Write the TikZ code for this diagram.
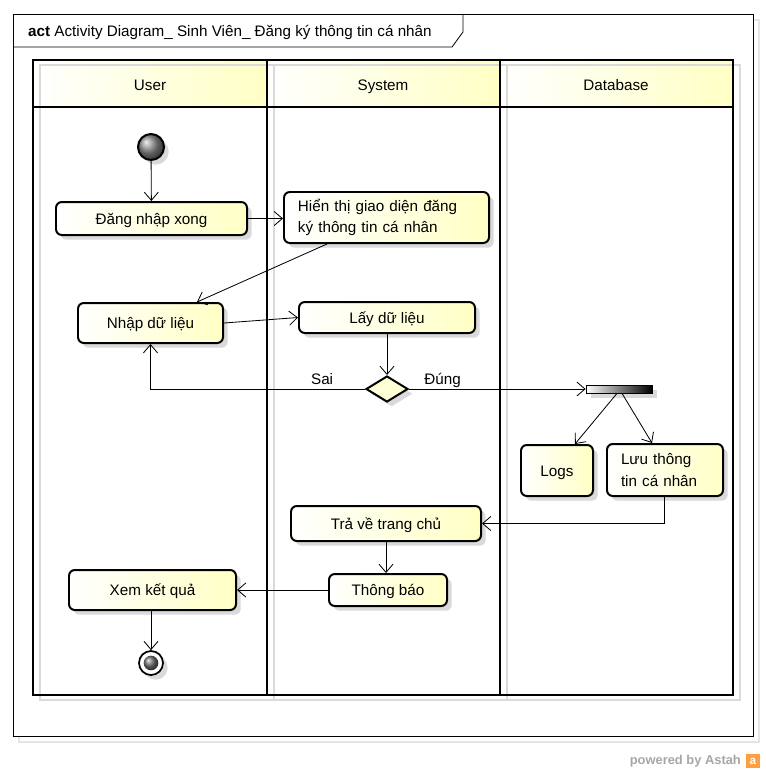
\documentclass[tikz,border=0pt]{standalone}
\usepackage{fontspec}
\setmainfont{Liberation Sans}
\usetikzlibrary{arrows.meta,shapes.geometric,shadows}
\definecolor{paleyellow}{RGB}{255,255,196}
\definecolor{shadowgray}{RGB}{218,218,218}

\begin{document}
\begin{tikzpicture}[
        x=0.03cm, y=-0.03cm,
        >={Straight Barb[length=7pt,width=12pt]},
        font=\fontsize{13}{18.5}\selectfont,
        softshadow/.style={drop shadow={shadow xshift=4pt, shadow yshift=-4pt,
            fill=shadowgray, opacity=1}},
        action/.style={draw, line width=1.7pt, rounded corners=5pt, inner sep=0pt,
            left color=white, right color=paleyellow, align=center, softshadow},
        oneline/.style={text height=1.9ex, text depth=0ex},
        initial/.style={circle, draw, line width=1.7pt, inner sep=0pt,
            minimum size=0.78cm, ball color=black!45, softshadow},
        decision/.style={diamond, draw, line width=1.7pt, inner sep=0pt,
            fill=paleyellow!70, minimum width=1.26cm, minimum height=0.78cm, softshadow},
        forkbar/.style={draw, line width=0.6pt, inner sep=0pt, left color=white,
            right color=black, minimum width=1.98cm, minimum height=0.24cm, softshadow},
        flow/.style={->, line width=0.7pt},
        lane/.style={line width=2.2pt},
        lanehead/.style={left color=white, right color=paleyellow}
    ]
    \useasboundingbox (0,0) rectangle (766,774);
    % frame
    \draw[shadowgray!70, line width=1pt] (19,20) rectangle (759,742);
    \draw[fill=white, line width=0.7pt] (13,14) rectangle (753,736);
    \draw[line width=0.7pt] (13,47) -- (452,47) -- (463,32) -- (463,14);
    \node[anchor=west, oneline] (title) at (24,31)
        {\textbf{act} Activity Diagram\_ Sinh Viên\_ Đăng ký thông tin cá nhân};

    % swimlanes
    \shade[lanehead] (33,60) rectangle (267,107);
    \shade[lanehead] (267,60) rectangle (500,107);
    \shade[lanehead] (500,60) rectangle (733,107);
    \draw[shadowgray, lane] (40,65) rectangle (740,700);
    \draw[shadowgray, lane] (274,65) -- (274,700) (507,65) -- (507,700);
    \draw[lane] (33,60) rectangle (733,695);
    \draw[lane] (33,107) -- (733,107);
    \draw[lane] (267,60) -- (267,695) (500,60) -- (500,695);
    \node[oneline] (user) at (150,85) {User};
    \node[oneline] (system) at (383,85) {System};
    \node[oneline] (database) at (616,85) {Database};

    % nodes
    \node[initial] (start) at (151,147) {};
    \node[action, oneline, minimum width=5.73cm, minimum height=0.99cm] (login)
        at (151.5,218.5) {Đăng nhập xong};
    \node[action, minimum width=6.15cm, minimum height=1.53cm, inner xsep=0.42cm,
        text width=5.31cm, align=left] (showform) at (386.5,217.5)
        {Hiển thị giao diện đăng\\ký thông tin cá nhân};
    \node[action, oneline, minimum width=4.35cm, minimum height=1.2cm] (input)
        at (150.5,323) {Nhập dữ liệu};
    \node[action, oneline, minimum width=5.28cm, minimum height=0.93cm] (fetch)
        at (387,317.5) {Lấy dữ liệu};
    \node[decision] (check) at (387,389) {};
    \node[forkbar] (fork) at (619,389) {};
    \node[action, oneline, minimum width=2.16cm, minimum height=1.53cm] (logs)
        at (557,470.5) {Logs};
    \node[action, minimum width=3.48cm, minimum height=1.56cm, inner xsep=0.42cm,
        text width=2.64cm, align=left] (save) at (665,470)
        {Lưu thông\\tin cá nhân};
    \node[action, oneline, minimum width=5.7cm, minimum height=1.05cm] (home)
        at (386,523.5) {Trả về trang chủ};
    \node[action, oneline, minimum width=3.54cm, minimum height=0.96cm] (notify)
        at (388,590) {Thông báo};
    \node[action, oneline, minimum width=5.01cm, minimum height=1.2cm] (result)
        at (152.5,590) {Xem kết quả};
    \node[circle, draw, line width=1.5pt, fill=white, inner sep=0pt,
        minimum size=0.72cm, softshadow] (finish) at (151,663) {};
    \node[circle, inner sep=0pt, minimum size=0.44cm, ball color=black!55]
        (finishdot) at (finish) {};

    % flows
    \draw[flow] (start) -- (login);
    \draw[flow] (login) -- (login -| showform.west);
    \draw[flow] ([xshift=-1.785cm]showform.south) -- ([xshift=1.395cm]input.north);
    \draw[flow] (input.east) -- (fetch.west);
    \draw[flow] (fetch) -- (check);
    \draw[flow] (check.west) -| node[pos=0.1, above, oneline] {Sai} (input.south);
    \draw[flow] (check.east) -- node[pos=0.19, above, oneline] {Đúng} (fork.west);
    \draw[flow] ([xshift=-0.06cm]fork.south) -- ([xshift=0.54cm]logs.north);
    \draw[flow] ([xshift=0.09cm]fork.south) -- ([xshift=-0.39cm]save.north);
    \draw[flow] ([xshift=-0.03cm]save.south) |- (home.east);
    \draw[flow] (home.south) -- (home.south |- notify.north);
    \draw[flow] (notify.west) -- (result.east);
    \draw[flow] (result.south -| finish) -- (finish);

    % footer
    \node[anchor=east, text=black!35, font=\fontsize{11}{13}\selectfont\bfseries]
        (powered) at (745,761) {powered by Astah};
    \node[fill=orange!75, text=white, inner sep=0pt, minimum size=0.42cm,
        font=\fontsize{10}{10}\selectfont\bfseries] (astahlogo) at (753,761) {a};
\end{tikzpicture}
\end{document}
